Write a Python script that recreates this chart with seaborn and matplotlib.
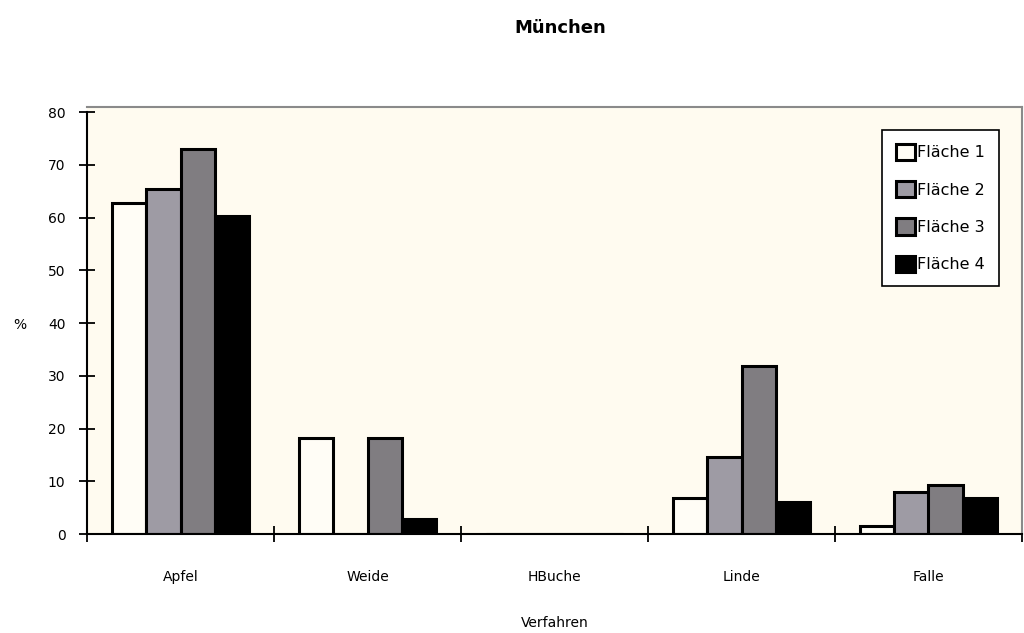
import numpy as np
import pandas as pd
import matplotlib
matplotlib.use("Agg")
import matplotlib.pyplot as plt
import seaborn as sns
from matplotlib.ticker import FixedLocator

categories = ["Apfel", "Weide", "HBuche", "Linde", "Falle"]
series = ["Fläche 1", "Fläche 2", "Fläche 3", "Fläche 4"]
flaeche1 = [62.7, 18.2, 0, 6.8, 1.6]
flaeche2 = [65.4, 0, 0, 14.6, 7.9]
flaeche3 = [73.1, 18.2, 0, 31.9, 9.3]
flaeche4 = [60.3, 2.8, 0, 6.1, 6.9]
yticks = [0, 10, 20, 30, 40, 50, 60, 70, 80]

colors = ["#FFFDF6", "#9E9BA4", "#807D81", "#000000"]

rows = []
for s, vals in zip(series, [flaeche1, flaeche2, flaeche3, flaeche4]):
    for c, v in zip(categories, vals):
        rows.append({"Verfahren": c, "Fläche": s, "Wert": v})
df = pd.DataFrame(rows)

sns.set_theme(style="white")
plt.rcParams["font.family"] = ["DejaVu Sans"]
plt.rcParams["text.color"] = "black"
plt.rcParams["axes.labelcolor"] = "black"
plt.rcParams["xtick.color"] = "black"
plt.rcParams["ytick.color"] = "black"

fig = plt.figure(figsize=(10.24, 6.33), dpi=100)
fig.patch.set_facecolor("white")
ax = fig.add_axes([87/1024, 1 - 534/633, 935/1024, 427/633])

sns.barplot(data=df, x="Verfahren", y="Wert", hue="Fläche", order=categories,
            hue_order=series, palette=colors, width=0.73, edgecolor="black",
            linewidth=2.2, saturation=1, ax=ax, legend=True)

ax.set_facecolor("#FFFBF0")
ax.set_xlim(-0.5, len(categories) - 0.5)
ax.set_ylim(0, 81)
ax.set_yticks(yticks)
ax.set_yticklabels([str(t) for t in yticks], fontsize=10)

ax.xaxis.set_minor_locator(FixedLocator(np.arange(-0.5, len(categories) + 0.5, 1.0)))
ax.tick_params(axis="x", which="major", length=0, pad=26, labelsize=10)
ax.tick_params(axis="x", which="minor", direction="inout", length=12, width=1.3, color="black", bottom=True)
ax.tick_params(axis="y", which="major", direction="inout", length=11, width=1.3, color="black", pad=10, left=True)

for side in ["left", "bottom"]:
    ax.spines[side].set_color("black")
    ax.spines[side].set_linewidth(1.5)
ax.spines["left"].set_bounds(0, 80)
for side in ["top", "right"]:
    ax.spines[side].set_color("#8A8A8A")
    ax.spines[side].set_linewidth(1.5)

ax.set_xlabel("Verfahren", fontsize=10, va="center")
ax.xaxis.set_label_coords(0.5, -0.208)
ax.set_ylabel("%", fontsize=10, rotation=0, va="center", ha="center")
ax.yaxis.set_label_coords(-0.072, 0.49)

fig.text(560/1024, 1 - 28/633, "München", ha="center", va="center",
         fontsize=13, fontweight="bold")

leg = ax.legend(loc="upper right", bbox_to_anchor=(0.975, 0.946), fontsize=11.5,
                frameon=True, fancybox=False, edgecolor="black", framealpha=1,
                facecolor="white", handlelength=1.2, handleheight=1.2,
                handletextpad=0.15, labelspacing=1.3, borderpad=0.85,
                borderaxespad=0)
leg.get_frame().set_linewidth(1.2)
for h in leg.legend_handles:
    h.set_edgecolor("black")
    h.set_linewidth(2.2)

fig.savefig("out.png", dpi=100, facecolor="white")
